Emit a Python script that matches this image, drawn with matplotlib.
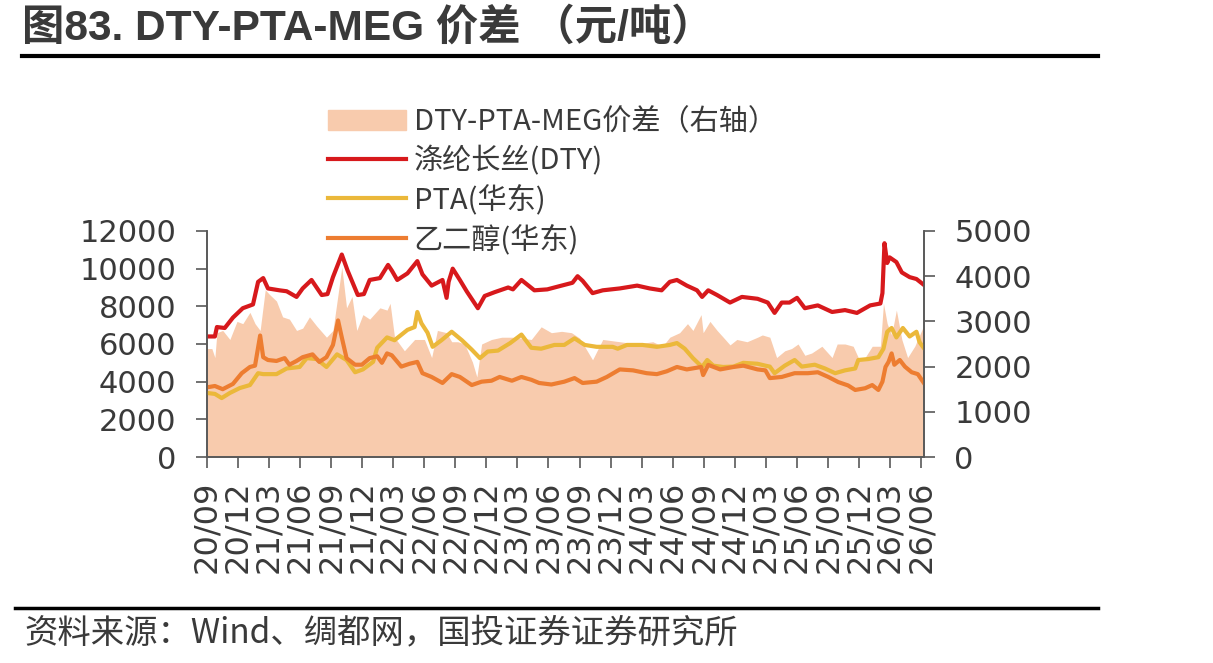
import matplotlib
matplotlib.use("Agg")
import matplotlib.pyplot as plt
import matplotlib.dates as mdates
import matplotlib.patches as mpatches
import pandas as pd

# 涤纶长丝(DTY) 左轴
dty_dates = ["2020-09-01", "2020-09-24", "2020-09-30", "2020-10-23", "2020-11-16", "2020-12-15",
             "2021-01-14", "2021-01-29", "2021-02-13", "2021-02-27", "2021-04-02", "2021-04-23",
             "2021-05-22", "2021-06-09", "2021-07-05", "2021-08-04", "2021-08-21", "2021-09-06",
             "2021-10-02", "2021-10-19", "2021-11-18", "2021-12-06", "2021-12-23", "2022-01-22",
             "2022-02-15", "2022-02-26", "2022-03-14", "2022-04-13", "2022-05-12", "2022-05-27",
             "2022-06-23", "2022-07-25", "2022-08-06", "2022-08-12", "2022-08-24", "2022-09-14",
             "2022-10-04", "2022-11-06", "2022-11-26", "2022-12-25", "2023-02-03", "2023-02-17",
             "2023-03-14", "2023-04-21", "2023-05-29", "2023-07-10", "2023-08-11", "2023-08-26",
             "2023-09-10", "2023-10-09", "2023-11-08", "2023-12-28", "2024-02-17", "2024-03-25",
             "2024-04-29", "2024-05-23", "2024-06-13", "2024-07-12", "2024-08-11", "2024-08-26",
             "2024-09-13", "2024-10-09", "2024-11-16", "2024-12-21", "2025-02-05", "2025-03-07",
             "2025-03-27", "2025-04-17", "2025-05-10", "2025-06-01", "2025-06-24", "2025-08-01",
             "2025-09-12", "2025-10-20", "2025-11-24", "2026-01-02", "2026-02-01", "2026-02-07",
             "2026-02-13", "2026-02-21", "2026-02-28", "2026-03-20", "2026-04-05", "2026-04-28",
             "2026-05-18", "2026-06-08"]
dty_vals = [6400, 6400, 6900, 6850, 7400, 7900,
            8100, 9300, 9500, 8950, 8850, 8800,
            8500, 8950, 9400, 8600, 8650, 9550,
            10750, 9900, 8600, 8650, 9400, 9500,
            10200, 9900, 9400, 9750, 10400, 9700,
            9100, 9400, 8450, 9300, 10000, 9400,
            8800, 7900, 8550, 8750, 9000, 8900,
            9400, 8850, 8900, 9100, 9250, 9600,
            9350, 8700, 8850, 8950, 9100, 8950,
            8850, 9300, 9400, 9100, 8850, 8500,
            8850, 8600, 8200, 8500, 8400, 8200,
            7650, 8200, 8200, 8450, 7900, 8050,
            7700, 7800, 7650, 8050, 8150, 8700,
            11350, 10300, 10600, 10350, 9800, 9550,
            9450, 9150]

# PTA(华东) 左轴
pta_dates = ["2020-09-01", "2020-09-24", "2020-10-14", "2020-11-07", "2020-12-06", "2021-01-05",
             "2021-01-29", "2021-02-13", "2021-03-24", "2021-04-23", "2021-05-31", "2021-06-21",
             "2021-07-20", "2021-08-18", "2021-09-18", "2021-10-16", "2021-11-10", "2021-12-03",
             "2022-01-02", "2022-01-14", "2022-02-12", "2022-03-06", "2022-04-13", "2022-05-04",
             "2022-05-12", "2022-05-24", "2022-06-11", "2022-06-26", "2022-07-22", "2022-08-21",
             "2022-09-20", "2022-10-19", "2022-11-12", "2022-12-05", "2023-01-04", "2023-02-09",
             "2023-03-14", "2023-04-12", "2023-05-11", "2023-06-19", "2023-07-18", "2023-08-17",
             "2023-09-16", "2023-10-21", "2023-12-07", "2023-12-22", "2024-01-18", "2024-03-04",
             "2024-04-15", "2024-05-23", "2024-06-13", "2024-07-06", "2024-07-30", "2024-08-26",
             "2024-09-10", "2024-09-28", "2024-10-27", "2024-11-26", "2024-12-25", "2025-02-05",
             "2025-02-28", "2025-03-13", "2025-03-27", "2025-04-26", "2025-05-25", "2025-06-15",
             "2025-07-23", "2025-08-22", "2025-09-21", "2025-10-20", "2025-11-19", "2025-11-28",
             "2025-12-27", "2026-01-26", "2026-02-10", "2026-02-21", "2026-03-06", "2026-03-20",
             "2026-04-08", "2026-04-28", "2026-05-18", "2026-05-27", "2026-06-08"]
pta_vals = [3400, 3350, 3130, 3400, 3660, 3820,
            4450, 4400, 4400, 4700, 4780, 5250,
            5200, 4780, 5450, 5150, 4500, 4650,
            5050, 5800, 6350, 6200, 6750, 6900,
            7700, 7100, 6600, 5850, 6200, 6650,
            6200, 5700, 5250, 5600, 5650, 6050,
            6500, 5800, 5750, 5950, 5950, 6300,
            5950, 5850, 5850, 5750, 5950, 5950,
            5850, 5950, 6050, 5750, 5250, 4780,
            5150, 4850, 4780, 4800, 5000, 4950,
            4850, 4800, 4450, 4850, 5150, 4800,
            4900, 4700, 4450, 4600, 4700, 5150,
            5200, 5300, 5750, 6650, 6850, 6350,
            6850, 6400, 6650, 6100, 5800]

# 乙二醇(华东) 左轴
meg_dates = ["2020-09-01", "2020-09-24", "2020-10-17", "2020-11-16", "2020-12-12", "2021-01-05",
             "2021-01-20", "2021-02-04", "2021-02-13", "2021-02-27", "2021-03-24", "2021-04-17",
             "2021-05-01", "2021-05-22", "2021-06-09", "2021-07-08", "2021-07-28", "2021-08-18",
             "2021-09-06", "2021-09-21", "2021-10-02", "2021-10-16", "2021-11-10", "2021-11-30",
             "2021-12-23", "2022-01-14", "2022-01-28", "2022-02-12", "2022-02-26", "2022-03-26",
             "2022-04-19", "2022-05-12", "2022-05-27", "2022-06-23", "2022-07-25", "2022-08-21",
             "2022-09-14", "2022-10-19", "2022-11-17", "2022-12-16", "2023-01-09", "2023-02-14",
             "2023-03-14", "2023-04-12", "2023-05-05", "2023-06-10", "2023-07-18", "2023-08-17",
             "2023-09-10", "2023-10-21", "2023-11-20", "2023-12-28", "2024-02-05", "2024-03-16",
             "2024-04-15", "2024-05-14", "2024-06-13", "2024-07-12", "2024-08-23", "2024-08-29",
             "2024-09-13", "2024-10-18", "2024-11-26", "2024-12-25", "2025-02-05", "2025-02-28",
             "2025-03-13", "2025-04-17", "2025-05-25", "2025-07-03", "2025-08-01", "2025-09-01",
             "2025-09-30", "2025-10-29", "2025-11-19", "2025-12-18", "2026-01-08", "2026-01-26",
             "2026-02-07", "2026-02-16", "2026-02-25", "2026-03-06", "2026-03-14", "2026-03-30",
             "2026-04-14", "2026-05-04", "2026-05-22", "2026-06-08"]
meg_vals = [3700, 3770, 3600, 3880, 4450, 4780,
            4850, 6450, 5300, 5150, 5100, 5250,
            4900, 5100, 5300, 5450, 5050, 5300,
            5950, 7250, 6350, 5250, 4900, 4900,
            5250, 5350, 5000, 5500, 5400, 4800,
            4950, 5050, 4450, 4250, 3930, 4400,
            4250, 3820, 4000, 4050, 4250, 4050,
            4250, 4100, 3930, 3850, 4000, 4190,
            3930, 4000, 4250, 4650, 4600, 4450,
            4400, 4550, 4780, 4650, 4780, 4350,
            4890, 4650, 4780, 4850, 4650, 4600,
            4190, 4250, 4450, 4450, 4500, 4250,
            3980, 3800, 3560, 3650, 3820, 3560,
            4000, 4780, 5050, 5500, 4900, 5150,
            4800, 4500, 4400, 3950]

# DTY-PTA-MEG价差 右轴
spread_dates = ["2020-09-01", "2020-09-15", "2020-09-24", "2020-09-30", "2020-10-17", "2020-11-07",
                "2020-11-28", "2020-12-15", "2021-01-05", "2021-01-20", "2021-02-04", "2021-02-19",
                "2021-03-03", "2021-03-24", "2021-04-11", "2021-05-01", "2021-05-22", "2021-06-09",
                "2021-06-29", "2021-07-20", "2021-08-18", "2021-09-06", "2021-09-21", "2021-10-02",
                "2021-10-16", "2021-11-01", "2021-11-15", "2021-12-03", "2021-12-23", "2022-01-22",
                "2022-02-12", "2022-02-21", "2022-03-06", "2022-04-04", "2022-05-04", "2022-06-02",
                "2022-06-23", "2022-07-10", "2022-08-06", "2022-08-21", "2022-09-08", "2022-09-28",
                "2022-10-21", "2022-11-03", "2022-11-17", "2022-12-16", "2023-01-15", "2023-02-14",
                "2023-03-14", "2023-04-12", "2023-05-11", "2023-06-10", "2023-07-10", "2023-08-08",
                "2023-09-01", "2023-10-09", "2023-11-08", "2023-12-28", "2024-02-17", "2024-04-03",
                "2024-05-02", "2024-05-23", "2024-06-21", "2024-07-14", "2024-07-30", "2024-08-23",
                "2024-08-29", "2024-09-18", "2024-10-09", "2024-10-27", "2024-11-16", "2024-12-06",
                "2025-01-05", "2025-02-05", "2025-02-19", "2025-03-13", "2025-04-02", "2025-04-26",
                "2025-05-16", "2025-06-04", "2025-06-24", "2025-07-14", "2025-08-13", "2025-09-12",
                "2025-09-27", "2025-10-20", "2025-11-13", "2025-11-28", "2025-12-18", "2026-01-08",
                "2026-02-01", "2026-02-10", "2026-02-21", "2026-03-06", "2026-03-20", "2026-04-05",
                "2026-04-22", "2026-05-13", "2026-06-08"]
spread_vals = [2400, 2400, 2200, 2750, 2800, 2600,
               3000, 2950, 3200, 2950, 2800, 3700,
               3600, 3450, 3100, 3050, 2800, 2850,
               3100, 2900, 2650, 2800, 3600, 4200,
               3300, 3550, 2800, 3150, 3050, 3300,
               3250, 3400, 2650, 2350, 2600, 2600,
               2200, 2800, 2750, 2550, 2550, 2500,
               2100, 1770, 2500, 2600, 2650, 2650,
               2630, 2600, 2880, 2750, 2780, 2750,
               2630, 2150, 2600, 2550, 2500, 2550,
               2450, 2650, 2750, 2950, 2800, 3150,
               2750, 3000, 2800, 2650, 2480, 2600,
               2550, 2650, 2700, 2650, 2200, 2350,
               2400, 2500, 2250, 2300, 2450, 2200,
               2500, 2500, 2450, 2200, 2200, 2450,
               2450, 3400, 2950, 2700, 3250, 2600,
               2200, 2450, 2900]

TEXT = "#3a3a3a"
cjk = ["Noto Sans CJK SC", "DejaVu Sans"]

fig = plt.figure(figsize=(12.13, 6.63), dpi=100)
ax = fig.add_axes([0.1707, 0.3107, 0.5910, 0.3409])
ax2 = ax.twinx()
ax.set_zorder(ax2.get_zorder() + 1)
ax.patch.set_visible(False)

sd = pd.to_datetime(spread_dates)
ax2.fill_between(sd, spread_vals, 0, color="#F8CBAD", lw=0)
ax.plot(pd.to_datetime(dty_dates), dty_vals, color="#D7191C", lw=3)
ax.plot(pd.to_datetime(pta_dates), pta_vals, color="#EBB83A", lw=3)
ax.plot(pd.to_datetime(meg_dates), meg_vals, color="#ED7D31", lw=3)

ax.set_ylim(0, 12000)
ax.set_yticks(range(0, 12001, 2000))
ax2.set_ylim(0, 5000)
ax2.set_yticks(range(0, 5001, 1000))
ax.set_xlim(pd.Timestamp("2020-09-01"), pd.Timestamp("2026-06-09"))
ax.xaxis.set_major_locator(mdates.MonthLocator(bymonth=[3, 6, 9, 12]))
ax.xaxis.set_major_formatter(mdates.DateFormatter("%y/%m"))

for a in (ax, ax2):
    a.spines["top"].set_visible(False)
    for s in a.spines.values():
        s.set_color("#595959")
        s.set_linewidth(1.2)
    a.tick_params(colors="#595959", labelcolor=TEXT, length=8, width=1.2,
                  labelsize=22, direction="out")
ax.tick_params(axis="y", pad=14)
ax2.tick_params(axis="y", pad=14)
ax.tick_params(axis="x", pad=9, labelsize=23)
for lab in ax.get_xticklabels():
    lab.set_rotation(90)

# 图例
handles = [mpatches.Patch(color="#F8CBAD"),
           plt.Line2D([], [], color="#D7191C", lw=3),
           plt.Line2D([], [], color="#EBB83A", lw=3),
           plt.Line2D([], [], color="#ED7D31", lw=3)]
labels = ["DTY-PTA-MEG价差（右轴）", "涤纶长丝(DTY)", "PTA(华东)", "乙二醇(华东)"]
fig.legend(handles, labels, loc="upper left", bbox_to_anchor=(0.258, 0.860),
           frameon=False, prop={"family": cjk, "size": 21}, labelcolor=TEXT,
           handlelength=2.7, handletextpad=0.25, labelspacing=0.3, borderpad=0)

# 标题与来源
fig.text(0.018, 0.957, "图83. DTY-PTA-MEG 价差 （元/吨）", fontsize=30.5, fontweight="bold",
         family=["Liberation Sans", "Noto Sans CJK SC"], color=TEXT, va="center")
fig.add_artist(plt.Line2D([0.018, 0.905], [0.915, 0.915], color="black", lw=3))
fig.add_artist(plt.Line2D([0.012, 0.905], [0.083, 0.083], color="black", lw=2.5))
fig.text(0.02, 0.046, "资料来源：Wind、绸都网，国投证券证券研究所", fontsize=24,
         family=cjk, color=TEXT, va="center", style="italic")

fig.savefig("out.png", dpi=100)
